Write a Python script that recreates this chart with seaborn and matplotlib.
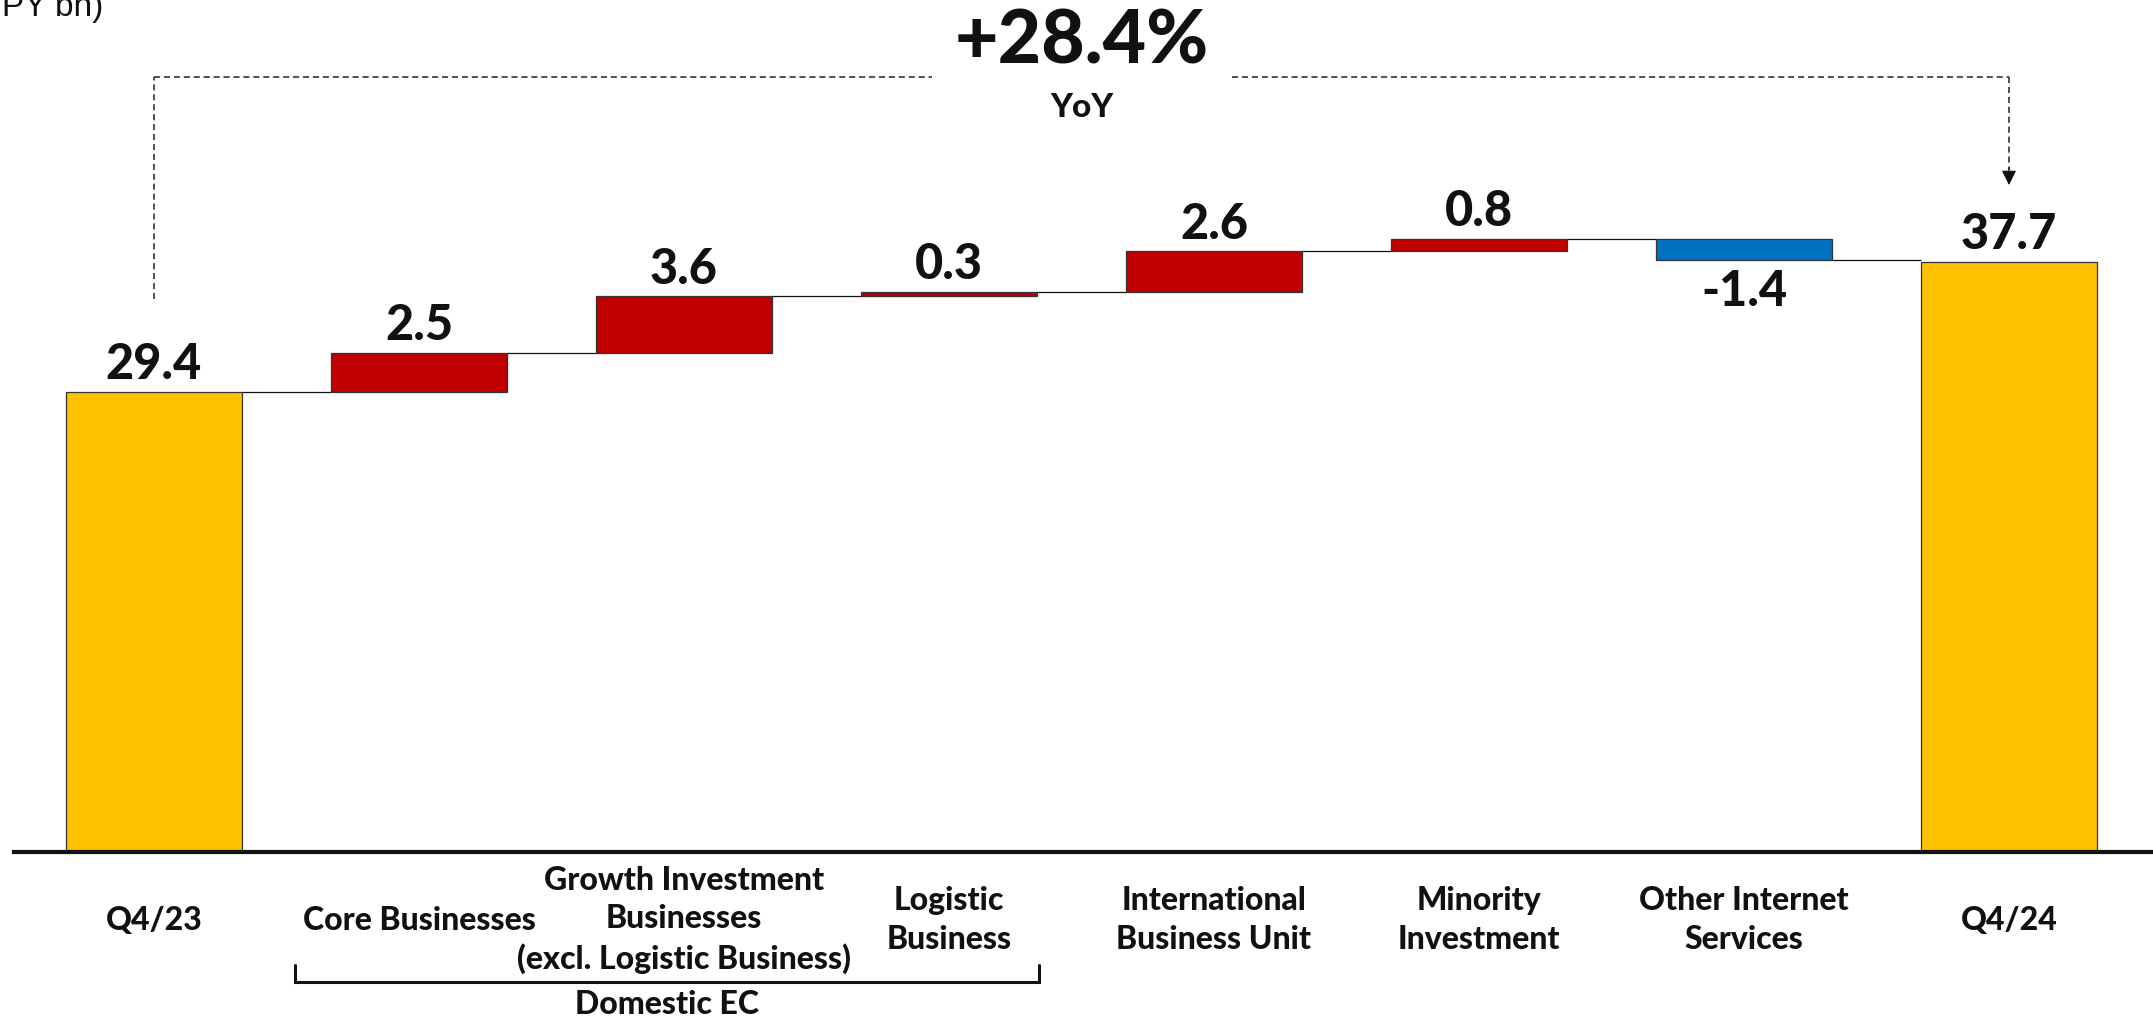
import matplotlib
matplotlib.use("Agg")
import matplotlib.pyplot as plt
import numpy as np
import pandas as pd
import seaborn as sns

# ---- data -------------------------------------------------------------
categories = [
    "Q4/23",
    "Core Businesses",
    "Growth Investment\nBusinesses\n(excl. Logistic Business)",
    "Logistic\nBusiness",
    "International\nBusiness Unit",
    "Minority\nInvestment",
    "Other Internet\nServices",
    "Q4/24",
]
values = [29.4, 2.5, 3.6, 0.3, 2.6, 0.8, -1.4, 37.7]
kinds = ["total", "delta", "delta", "delta", "delta", "delta", "delta", "total"]
value_labels = ["29.4", "2.5", "3.6", "0.3", "2.6", "0.8", "-1.4", "37.7"]
yoy_text = "+28.4%"
yoy_sub = "YoY"
group_text = "Domestic EC"
unit_text = "(JPY bn)"

COL_TOTAL = "#FFC000"
COL_UP = "#C00000"
COL_DOWN = "#0070C0"

# ---- waterfall geometry ------------------------------------------------
bottoms, heights, colors, levels = [], [], [], []
running = 0.0
for v, k in zip(values, kinds):
    if k == "total":
        bottoms.append(0.0)
        heights.append(v)
        colors.append(COL_TOTAL)
        running = v
    else:
        lo = running if v >= 0 else running + v
        bottoms.append(lo)
        heights.append(abs(v))
        colors.append(COL_UP if v >= 0 else COL_DOWN)
        running += v
    levels.append(running)

df = pd.DataFrame({"category": categories, "height": heights, "bottom": bottoms})

# ---- figure ------------------------------------------------------------
sns.set_style("white")
plt.rcParams["font.family"] = ["Lato", "DejaVu Sans"]
HEAVY = "black"

W, H = 2153, 1019
fig = plt.figure(figsize=(W / 100, H / 100), dpi=100)
ax_left, ax_base = 14, 167          # pixel positions of axis start / baseline
ax = fig.add_axes([ax_left / W, ax_base / H, (W - ax_left) / W, (H - ax_base) / H])

BAR_W = 0.664
sns.barplot(
    data=df, x="category", y="height", order=categories,
    color=COL_TOTAL, saturation=1,
    bottom=df["bottom"].to_numpy(), facecolor=colors,
    edgecolor="#333333", linewidth=0.9, width=BAR_W,
    errorbar=None, ax=ax, zorder=3,
)

px_per_unit = 15.65
x0_px, step_px = 154, 265
ax.set_xlim((ax_left - x0_px) / step_px, (W - x0_px) / step_px)
ax.set_ylim(0, (H - ax_base) / px_per_unit)

ax.set_xlabel("")
ax.set_ylabel("")
ax.set_yticks([])
for side in ("left", "right", "top"):
    ax.spines[side].set_visible(False)
ax.spines["bottom"].set_linewidth(3)
ax.spines["bottom"].set_color("#111111")
ax.spines["bottom"].set_zorder(5)

# category labels
ax.set_xticks(range(len(categories)))
ax.set_xticklabels(categories, fontsize=23, fontweight=HEAVY, va="center",
                   multialignment="center", linespacing=1.4, color="#111111")
ax.tick_params(axis="x", length=0, pad=49)

# connectors between consecutive bars
for i in range(len(values) - 1):
    ax.hlines(levels[i], i + BAR_W / 2, i + 1 - BAR_W / 2,
              color="#111111", linewidth=0.9, zorder=2)

# value labels
for i, (v, lbl) in enumerate(zip(values, value_labels)):
    if v >= 0:
        ax.annotate(lbl, (i, bottoms[i] + heights[i]), xytext=(0, 9),
                    textcoords="offset points", ha="center", va="baseline",
                    fontsize=35, fontweight=HEAVY, color="#111111")
    else:
        ax.annotate(lbl, (i, bottoms[i]), xytext=(0, -32.5),
                    textcoords="offset points", ha="center", va="baseline",
                    fontsize=35, fontweight=HEAVY, color="#111111")

# YoY bracket
def py(p):
    return (H - ax_base - p) / px_per_unit

def px(p):
    return (p - x0_px) / step_px

y_top = py(77)
dash = dict(color="#222222", linewidth=1.1, linestyle=(0, (4, 2.5)), clip_on=False)
ax.plot([0, 0], [py(299), y_top], **dash)
ax.plot([0, px(932)], [y_top, y_top], **dash)
ax.plot([px(1232), 7], [y_top, y_top], **dash)
ax.plot([7, 7], [y_top, py(170)], **dash)
ax.annotate("", xy=(7, py(185)), xytext=(7, py(168)),
            arrowprops=dict(arrowstyle="-|>,head_length=0.9,head_width=0.45",
                            color="#111111", lw=0.8, shrinkA=0, shrinkB=0),
            annotation_clip=False)
ax.text(3.5, py(63), yoy_text, ha="center", va="baseline",
        fontsize=54, fontweight=HEAVY, color="#111111", clip_on=False)
ax.text(3.5, py(117), yoy_sub, ha="center", va="baseline",
        fontsize=24, fontweight=HEAVY, color="#111111", clip_on=False)

# Domestic EC bracket
yb1, yb2 = py(965), py(982)
xb1, xb2 = px(295), px(1039)
ax.plot([xb1, xb1, xb2, xb2], [yb1, yb2, yb2, yb1], color="#111111",
        linewidth=2.2, clip_on=False, solid_joinstyle="miter")
ax.text((xb1 + xb2) / 2, py(1004), group_text, ha="center", va="center",
        fontsize=23, fontweight=HEAVY, color="#111111", clip_on=False)

# unit label (runs off the top-left corner)
fig.text(103 / W, 1 - 16 / H, unit_text, ha="right", va="baseline",
         fontsize=24, family=["Liberation Sans", "DejaVu Sans"], color="#111111")

fig.savefig("out.png", dpi=100)
